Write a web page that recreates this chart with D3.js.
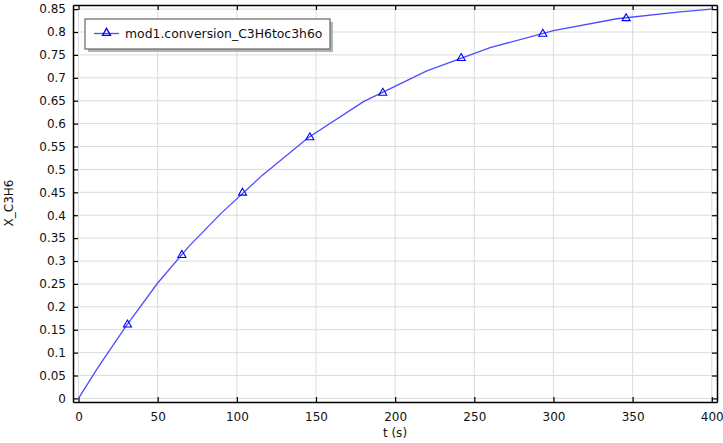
<!DOCTYPE html>
<html><head><meta charset="utf-8">
<script src="https://cdn.jsdelivr.net/npm/d3@7"></script>
<style>body{margin:0;background:#fff}svg{display:block}text{font-family:"DejaVu Sans",sans-serif;fill:#111}</style>
</head><body><svg id="c" width="723" height="443"></svg>
<script>
const lineT = [0, 12, 30, 50, 70, 90, 116, 145, 180, 220, 260, 300, 340, 380, 400];
const lineX = [0, 0.066, 0.158, 0.252, 0.333, 0.404, 0.487, 0.569, 0.648, 0.715, 0.766, 0.803, 0.829, 0.844, 0.850];
const markerT = [30.9, 65.3, 103.6, 146.1, 192.2, 241.7, 293.3, 345.9];
const markerX = [0.162, 0.314, 0.450, 0.571, 0.668, 0.744, 0.797, 0.831];
const xTicks = [0, 50, 100, 150, 200, 250, 300, 350, 400];
const yTicks = [0, 0.05, 0.1, 0.15, 0.2, 0.25, 0.3, 0.35, 0.4, 0.45, 0.5, 0.55, 0.6, 0.65, 0.7, 0.75, 0.8, 0.85];
const seriesName = "mod1.conversion_C3H6toc3h6o";
const xLabel = "t (s)", yLabel = "X_C3H6";

const svg = d3.select("#c");
const L = 73, R = 717, T = 5, B = 402;
const x = d3.scaleLinear().domain([-3.5, 403.3]).range([L, R]);
const y = d3.scaleLinear().domain([-0.0078, 0.859]).range([B, T]);

// grid
const g = svg.append("g");
g.selectAll(".gx").data(xTicks).join("line").attr("x1", d => x(d)).attr("x2", d => x(d)).attr("y1", T).attr("y2", B).attr("stroke", "#dcdcdc").attr("stroke-width", 1);
g.selectAll(".gy").data(yTicks).join("line").attr("y1", d => y(d)).attr("y2", d => y(d)).attr("x1", L).attr("x2", R).attr("stroke", "#dcdcdc").attr("stroke-width", 1);

// axes (ticks inward)
const axB = svg.append("g").attr("transform", `translate(0,${B})`).call(d3.axisBottom(x).tickValues(xTicks).tickSizeInner(-5).tickSizeOuter(0).tickPadding(10).tickFormat(d3.format("d")));
const axT = svg.append("g").attr("transform", `translate(0,${T})`).call(d3.axisTop(x).tickValues(xTicks).tickSizeInner(-5).tickSizeOuter(0).tickFormat(""));
const axL = svg.append("g").attr("transform", `translate(${L},0)`).call(d3.axisLeft(y).tickValues(yTicks).tickSizeInner(-5).tickSizeOuter(0).tickPadding(7).tickFormat(d => d3.format("")(+d.toFixed(2))));
const axRt = svg.append("g").attr("transform", `translate(${R},0)`).call(d3.axisRight(y).tickValues(yTicks).tickSizeInner(-5).tickSizeOuter(0).tickFormat(""));
[axB, axT, axL, axRt].forEach(a => {
  a.selectAll("path.domain").attr("stroke", "#000").attr("stroke-width", 1.5);
  a.selectAll(".tick line").attr("stroke", "#000").attr("stroke-width", 1.2);
  a.selectAll("text").attr("font-size", 12).attr("font-family", "DejaVu Sans").attr("fill", "#111");
});

// line
const pts = lineT.map((t, i) => [t, lineX[i]]);
svg.append("path").datum(pts).attr("d", d3.line().x(d => x(d[0])).y(d => y(d[1])))
  .attr("fill", "none").attr("stroke", "#4d4dff").attr("stroke-width", 1.3);

// markers
const tri = d3.symbol().type(d3.symbolTriangle).size(28);
svg.selectAll(".m").data(markerT.map((t, i) => [t, markerX[i]])).join("path")
  .attr("d", tri).attr("transform", d => `translate(${x(d[0])},${y(d[1]) + 0.5})`)
  .attr("fill", "none").attr("stroke", "#0000ff").attr("stroke-width", 1.1);

// labels
svg.append("text").attr("x", 395).attr("y", 437).attr("text-anchor", "middle").attr("font-size", 12).text(xLabel);
svg.append("text").attr("transform", "translate(13,203) rotate(-90)").attr("text-anchor", "middle").attr("font-size", 12).text(yLabel);

// legend
const lg = svg.append("g");
lg.append("rect").attr("x", 88).attr("y", 22).attr("width", 245).attr("height", 30).attr("fill", "#b4b4b4");
lg.append("rect").attr("x", 85).attr("y", 19).attr("width", 245).attr("height", 30).attr("fill", "#fff").attr("stroke", "#666").attr("stroke-width", 1.2);
lg.append("line").attr("x1", 94).attr("x2", 119).attr("y1", 33.5).attr("y2", 33.5).attr("stroke", "#4d4dff").attr("stroke-width", 1.3);
lg.append("path").attr("d", tri).attr("transform", "translate(106.5,33)").attr("fill", "none").attr("stroke", "#0000ff").attr("stroke-width", 1.3);
lg.append("text").attr("x", 125).attr("y", 38).attr("font-size", 12.4).text(seriesName);
</script></body></html>
